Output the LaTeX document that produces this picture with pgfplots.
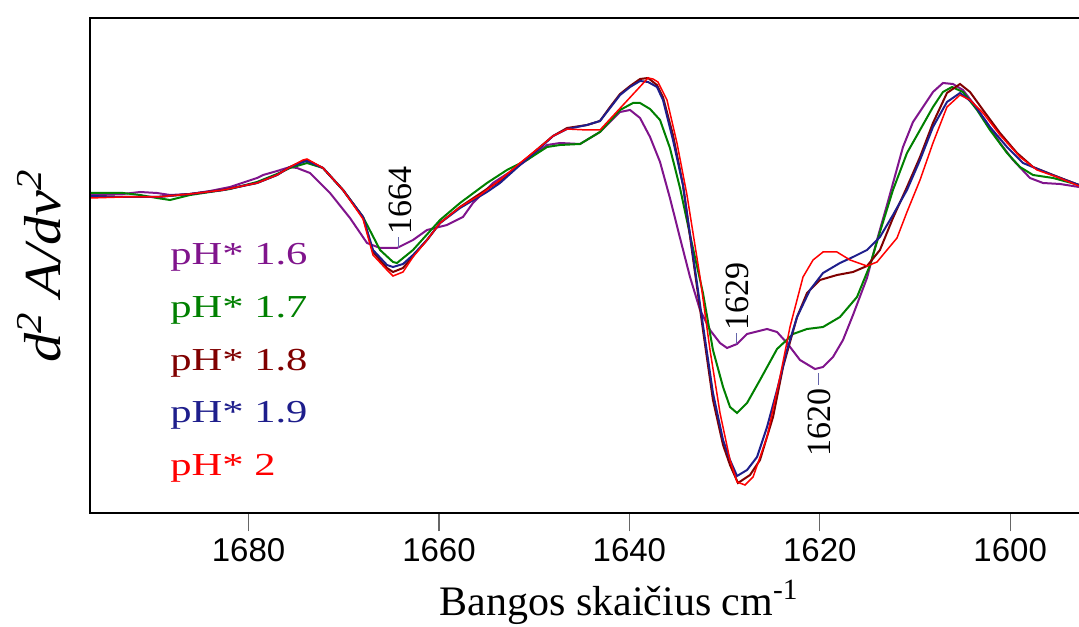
\documentclass[border=0pt]{standalone}
\usepackage{fontspec}
\usepackage{pgfplots}
\pgfplotsset{compat=1.18}
\setmainfont{Liberation Serif}
\newfontfamily\serf{Liberation Serif}
\newfontfamily\sansf{Liberation Sans}
\newfontfamily\legf[FakeStretch=1.33]{Liberation Serif}
\newfontfamily\ylf[FakeStretch=1.12]{Liberation Serif}
\definecolor{c16}{RGB}{128,20,140}
\definecolor{c17}{RGB}{0,128,0}
\definecolor{c18}{RGB}{128,0,0}
\definecolor{c19}{RGB}{30,30,140}
\definecolor{c20}{RGB}{255,0,0}
\definecolor{annc}{RGB}{100,100,170}
\begin{document}
\begin{tikzpicture}
\begin{axis}[
  name=ax,
  scale only axis,
  width=494.5pt, height=247.5pt,
  x dir=reverse,
  xmin=1592.77, xmax=1696.66,
  ymin=-513.3, ymax=-18.3,
  axis line style={draw=none},
  xtick={1600,1620,1640,1660,1680},
  ytick=\empty,
  xtick pos=left,
  tick align=outside,
  major tick length=9pt,
  tick style={gray!80!black, line width=0.6pt},
  /pgf/number format/1000 sep={},
  /pgf/number format/assume math mode=true,
  xticklabel style={font=\sansf\fontsize{16.5}{19}\selectfont},
  xlabel={Bangos skaičius cm\textsuperscript{-1}},
  xlabel style={at={(axis description cs:0.535,-0.2055)}, anchor=base, font=\serf\fontsize{21}{25}\selectfont},
  ylabel={\itshape d\textsuperscript{2} A/dv\textsuperscript{2}},
  ylabel style={at={(axis description cs:-0.0303,0.5)}, anchor=base, rotate=0, font=\ylf\fontsize{26}{30}\selectfont},
  legend image code/.code={},
  legend cell align=left,
  legend style={at={(axis description cs:0.0809,0.531)}, anchor=north west, draw=none, fill=none, inner sep=0pt, row sep=16.8pt, column sep=0pt,
    nodes={inner sep=0pt, text height=0.7em, text depth=0.25em},
    font=\legf\fontsize{16}{19}\selectfont},
]
% pH* 1.6
\addplot[c16, line width=1pt] coordinates {
(1696.66,-195) (1693.19,-194) (1691.40,-192) (1689.62,-193) (1688.25,-195) (1686.15,-194)
(1684.05,-191) (1681.95,-187) (1679.11,-178) (1678.48,-175) (1677.01,-171) (1675.65,-167)
(1674.91,-168) (1673.55,-173) (1671.45,-193) (1669.35,-218) (1667.56,-243) (1666.19,-248)
(1664.41,-248) (1662.73,-240) (1661.26,-230) (1659.16,-225) (1657.48,-217) (1656.43,-203)
(1654.33,-183) (1652.23,-170) (1650.76,-160) (1648.65,-145) (1647.29,-143) (1645.18,-144)
(1643.09,-132) (1640.98,-112) (1639.93,-110) (1638.88,-118) (1637.83,-137) (1636.78,-162)
(1635.74,-198) (1634.68,-238) (1633.63,-277) (1632.58,-310) (1631.53,-330) (1630.48,-343)
(1629.74,-348) (1628.69,-344) (1627.64,-334) (1625.54,-329) (1624.49,-332) (1623.44,-343)
(1622.08,-360) (1620.50,-369) (1619.66,-367) (1618.61,-357) (1617.56,-340) (1616.51,-315)
(1615.04,-278) (1613.99,-240) (1612.94,-205) (1611.26,-147) (1610.21,-122) (1609.16,-107)
(1608.11,-92) (1607.06,-83) (1606.01,-84) (1604.96,-90) (1603.91,-103) (1602.43,-123)
(1601.07,-143) (1599.70,-160) (1597.92,-178) (1596.55,-183) (1594.76,-184) (1592.77,-187)
};
\addlegendentry{\textcolor{c16}{pH* 1.6}}
% pH* 1.7
\addplot[c17, line width=1pt] coordinates {
(1696.66,-193) (1693.19,-193) (1691.40,-195) (1689.62,-198) (1688.25,-200) (1686.15,-195)
(1684.05,-192) (1681.95,-189) (1679.11,-182) (1677.01,-174) (1675.65,-168) (1673.86,-163)
(1672.18,-168) (1670.08,-190) (1667.98,-217) (1666.19,-250) (1664.83,-262) (1664.41,-263)
(1662.73,-250) (1659.89,-220) (1657.79,-203) (1654.96,-183) (1652.86,-170) (1650.76,-160)
(1648.65,-147) (1647.29,-145) (1645.18,-144) (1643.09,-132) (1640.98,-110) (1639.62,-103)
(1638.88,-103) (1637.83,-109) (1636.78,-120) (1635.74,-148) (1634.68,-188) (1633.63,-235)
(1632.27,-293) (1631.22,-350) (1630.16,-387) (1629.43,-407) (1628.69,-413) (1627.64,-403)
(1626.28,-380) (1624.49,-349) (1622.81,-334) (1621.34,-329) (1619.66,-327) (1617.88,-317)
(1616.09,-297) (1614.72,-265) (1613.68,-232) (1612.31,-190) (1610.84,-153) (1609.47,-130)
(1608.11,-107) (1607.06,-92) (1606.11,-87) (1604.96,-92) (1603.48,-110) (1602.12,-130)
(1600.33,-153) (1598.97,-167) (1597.60,-175) (1595.50,-178) (1592.77,-185)
};
\addlegendentry{\textcolor{c17}{pH* 1.7}}
% pH* 1.8
\addplot[c18, line width=1pt] coordinates {
(1696.66,-196) (1693.19,-197) (1689.62,-197) (1686.15,-194) (1682.69,-190) (1679.11,-183)
(1677.01,-175) (1675.65,-167) (1674.28,-161) (1673.86,-160) (1672.18,-168) (1670.08,-190)
(1667.98,-217) (1666.93,-252) (1665.46,-268) (1664.83,-272) (1663.78,-268) (1662.73,-256)
(1661.26,-240) (1659.89,-223) (1657.79,-207) (1654.96,-189) (1653.59,-181) (1651.49,-164)
(1649.39,-147) (1648.02,-136) (1646.55,-128) (1644.45,-125) (1643.09,-121) (1642.03,-107)
(1640.98,-94) (1639.93,-86) (1638.88,-79) (1638.04,-78) (1637.10,-85) (1636.47,-97)
(1635.42,-135) (1634.37,-185) (1633.32,-258) (1632.27,-330) (1631.22,-400) (1630.16,-445)
(1629.43,-465) (1628.59,-483) (1627.33,-475) (1626.28,-460) (1624.91,-417) (1623.86,-367)
(1622.39,-317) (1621.34,-293) (1619.98,-280) (1618.19,-275) (1616.51,-272) (1615.04,-266)
(1613.68,-250) (1612.31,-218) (1610.84,-187) (1609.47,-157) (1608.11,-123) (1606.64,-93)
(1605.27,-84) (1604.22,-92) (1602.85,-110) (1601.07,-133) (1599.28,-153) (1597.60,-167)
(1595.50,-175) (1592.77,-185)
};
\addlegendentry{\textcolor{c18}{pH* 1.8}}
% pH* 1.9
\addplot[c19, line width=1pt] coordinates {
(1696.66,-196) (1693.19,-197) (1689.62,-197) (1686.15,-194) (1682.69,-190) (1679.11,-183)
(1677.01,-175) (1675.65,-167) (1674.28,-162) (1673.86,-161) (1672.18,-168) (1670.08,-190)
(1667.98,-217) (1666.93,-250) (1665.46,-265) (1664.83,-267) (1663.78,-264) (1662.73,-255)
(1661.26,-240) (1659.89,-223) (1657.79,-208) (1654.96,-192) (1653.59,-183) (1651.49,-165)
(1649.39,-148) (1648.02,-136) (1646.55,-129) (1644.45,-125) (1643.09,-121) (1642.03,-108)
(1640.98,-95) (1639.93,-87) (1638.88,-81) (1638.04,-82) (1637.10,-87) (1636.47,-100)
(1635.42,-140) (1634.37,-185) (1633.32,-255) (1632.27,-325) (1631.22,-393) (1630.16,-440)
(1629.43,-460) (1628.69,-476) (1627.64,-470) (1626.59,-457) (1625.54,-427) (1624.49,-390)
(1623.44,-350) (1622.39,-317) (1621.03,-290) (1619.66,-273) (1617.88,-263) (1616.51,-257)
(1615.04,-250) (1613.68,-237) (1612.31,-215) (1610.84,-190) (1609.47,-160) (1608.11,-127)
(1606.64,-102) (1605.27,-93) (1603.91,-103) (1602.12,-127) (1600.33,-147) (1598.65,-163)
(1596.86,-170) (1594.76,-178) (1592.77,-185)
};
\addlegendentry{\textcolor{c19}{pH* 1.9}}
% pH* 2
\addplot[c20, line width=0.75pt] coordinates {
(1696.66,-198) (1693.19,-197) (1689.62,-197) (1686.15,-194) (1682.69,-190) (1679.11,-183)
(1677.01,-175) (1675.65,-167) (1674.28,-160) (1673.86,-159) (1672.18,-168) (1670.08,-190)
(1667.98,-219) (1666.93,-255) (1665.46,-270) (1664.83,-276) (1663.78,-272) (1662.73,-257)
(1661.26,-240) (1659.89,-223) (1657.79,-207) (1655.69,-195) (1653.59,-180) (1651.49,-163)
(1649.39,-147) (1648.02,-136) (1646.55,-129) (1644.45,-130) (1643.09,-130) (1638.04,-78)
(1637.52,-79) (1637.00,-82) (1636.05,-100) (1635.00,-143) (1633.95,-195) (1632.58,-277)
(1631.53,-350) (1630.48,-413) (1629.43,-460) (1628.69,-482) (1627.85,-485) (1627.01,-477)
(1625.54,-437) (1624.18,-377) (1623.13,-327) (1621.76,-277) (1620.71,-260) (1619.66,-252)
(1618.19,-252) (1616.82,-260) (1615.04,-266) (1613.99,-262) (1612.94,-250) (1611.89,-238)
(1610.84,-212) (1609.47,-180) (1608.11,-143) (1606.64,-107) (1605.27,-95) (1604.22,-100)
(1602.85,-113) (1601.07,-135) (1598.97,-157) (1597.18,-170) (1595.08,-177) (1592.77,-186)
};
\addlegendentry{\textcolor{c20}{pH* 2}}
% anchors for the peak annotations
\coordinate (a1a) at (axis cs:1664.3,-248);
\coordinate (a1b) at (axis cs:1664.3,-237);
\coordinate (a1t) at (axis cs:1664.1,-235);
\coordinate (a2a) at (axis cs:1628.8,-344);
\coordinate (a2b) at (axis cs:1628.8,-333);
\coordinate (a2t) at (axis cs:1628.7,-331);
\coordinate (a3a) at (axis cs:1620.1,-373);
\coordinate (a3b) at (axis cs:1620.1,-385);
\coordinate (a3t) at (axis cs:1620.0,-388);
\end{axis}
\draw[line width=1pt] ([xshift=5pt]ax.north east) -- (ax.north west) -- (ax.south west) -- ([xshift=5pt]ax.south east);
\draw[annc, line width=0.5pt] (a1a) -- (a1b);
\draw[annc, line width=0.5pt] (a2a) -- (a2b);
\draw[annc, line width=0.5pt] (a3a) -- (a3b);
\node[rotate=90, anchor=west, inner sep=0pt, font=\rmfamily\fontsize{17}{20}\selectfont] at (a1t) {1664};
\node[rotate=90, anchor=west, inner sep=0pt, font=\rmfamily\fontsize{17}{20}\selectfont] at (a2t) {1629};
\node[rotate=90, anchor=east, inner sep=0pt, font=\rmfamily\fontsize{17}{20}\selectfont] at (a3t) {1620};
\pgfresetboundingbox
\path[use as bounding box] ([xshift=-45pt,yshift=-56.35pt]ax.south west) rectangle ([yshift=9.15pt]ax.north east);
\end{tikzpicture}
\end{document}
